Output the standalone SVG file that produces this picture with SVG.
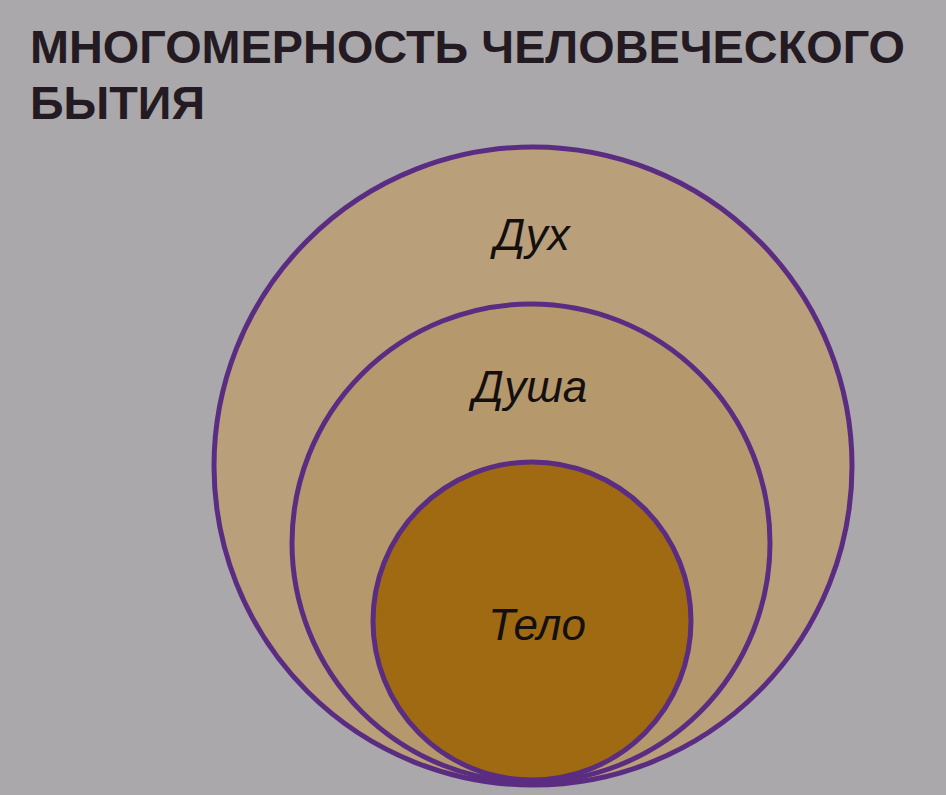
<svg xmlns="http://www.w3.org/2000/svg" width="946" height="795" viewBox="0 0 946 795">
<style>
.t{font-family:"Liberation Sans",Arial,sans-serif;font-weight:bold;font-size:46px;fill:#231a22}
.l{font-family:"Liberation Sans",Arial,sans-serif;font-style:italic;font-size:44px;fill:#141010;text-anchor:middle}
.c{stroke:#5b2d82;stroke-width:5}
</style>
<rect width="946" height="795" fill="#aaa8aa"/>
<g id="title">
<text class="t" x="30" y="63" textLength="875" lengthAdjust="spacingAndGlyphs">МНОГОМЕРНОСТЬ ЧЕЛОВЕЧЕСКОГО</text>
<text class="t" x="30" y="119" textLength="175" lengthAdjust="spacingAndGlyphs">БЫТИЯ</text>
</g>
<g id="spirit"><circle class="c" cx="533" cy="466" r="319" fill="#baa07a"/><text class="l" x="532" y="250">Дух</text></g>
<g id="soul"><circle class="c" cx="531" cy="543" r="239" fill="#b5996c"/><text class="l" x="530" y="402">Душа</text></g>
<g id="body"><circle class="c" cx="532" cy="621" r="159" fill="#9f6a12"/><text class="l" x="537" y="640">Тело</text></g>
<g id="connectors"/>
</svg>
